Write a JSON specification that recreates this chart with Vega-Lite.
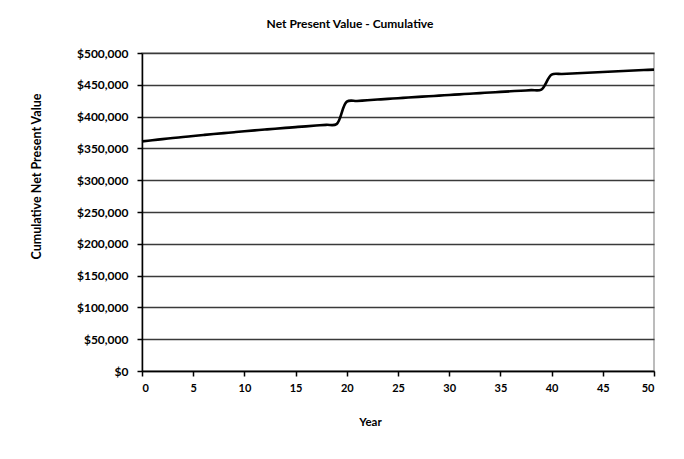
{
  "$schema": "https://vega.github.io/schema/vega-lite/v6.json",
  "autosize": "none",
  "width": 512,
  "height": 318,
  "padding": {"left": 142, "top": 53, "right": 30, "bottom": 88},
  "background": "white",
  "config": {
    "view": {"stroke": "#a6a6a6", "strokeWidth": 1.5},
    "font": "Lato"
  },
  "title": {
    "text": "Net Present Value - Cumulative",
    "font": "Lato",
    "fontSize": 12,
    "fontWeight": "bold",
    "color": "#000000",
    "anchor": "middle",
    "dx": -48,
    "offset": 16
  },
  "data": {
    "values": [
      {"year": 0, "npv": 361000}, {"year": 1, "npv": 362800}, {"year": 2, "npv": 364550},
      {"year": 3, "npv": 366250}, {"year": 4, "npv": 367900}, {"year": 5, "npv": 369500},
      {"year": 6, "npv": 371050}, {"year": 7, "npv": 372550}, {"year": 8, "npv": 374050},
      {"year": 9, "npv": 375500}, {"year": 10, "npv": 376900}, {"year": 11, "npv": 378300},
      {"year": 12, "npv": 379650}, {"year": 13, "npv": 380950}, {"year": 14, "npv": 382250},
      {"year": 15, "npv": 383500}, {"year": 16, "npv": 384700}, {"year": 17, "npv": 385900},
      {"year": 18, "npv": 387050}, {"year": 19, "npv": 388150}, {"year": 20, "npv": 423500},
      {"year": 21, "npv": 424600}, {"year": 22, "npv": 425700}, {"year": 23, "npv": 426800},
      {"year": 24, "npv": 427850}, {"year": 25, "npv": 428900}, {"year": 26, "npv": 429950},
      {"year": 27, "npv": 431000}, {"year": 28, "npv": 432000}, {"year": 29, "npv": 433000},
      {"year": 30, "npv": 434000}, {"year": 31, "npv": 435000}, {"year": 32, "npv": 436000},
      {"year": 33, "npv": 436950}, {"year": 34, "npv": 437900}, {"year": 35, "npv": 438850},
      {"year": 36, "npv": 439800}, {"year": 37, "npv": 440700}, {"year": 38, "npv": 441600},
      {"year": 39, "npv": 442500}, {"year": 40, "npv": 466000}, {"year": 41, "npv": 466900},
      {"year": 42, "npv": 467700}, {"year": 43, "npv": 468500}, {"year": 44, "npv": 469300},
      {"year": 45, "npv": 470100}, {"year": 46, "npv": 470900}, {"year": 47, "npv": 471700},
      {"year": 48, "npv": 472500}, {"year": 49, "npv": 473200}, {"year": 50, "npv": 473900}
    ]
  },
  "mark": {"type": "line", "color": "#000000", "strokeWidth": 2.6, "interpolate": "catmull-rom"},
  "encoding": {
    "x": {
      "field": "year",
      "type": "quantitative",
      "scale": {"domain": [0, 50], "nice": false, "zero": true},
      "axis": {
        "title": "Year",
        "values": [0, 5, 10, 15, 20, 25, 30, 35, 40, 45, 50],
        "grid": false,
        "domainColor": "#000000",
        "domainWidth": 1.5,
        "tickColor": "#000000",
        "tickWidth": 1.5,
        "tickSize": 5,
        "labelFont": "Lato",
        "labelFontSize": 11,
        "labelFontWeight": "bold",
        "labelColor": "#000000",
        "labelPadding": 6,
        "titleFont": "Lato",
        "titleFontSize": 11.5,
        "titleFontWeight": "bold",
        "titleColor": "#000000",
        "titleX": 228,
        "titlePadding": 23
      }
    },
    "y": {
      "field": "npv",
      "type": "quantitative",
      "scale": {"domain": [0, 500000], "nice": false},
      "axis": {
        "title": "Cumulative Net Present Value",
        "values": [0, 50000, 100000, 150000, 200000, 250000, 300000, 350000, 400000, 450000, 500000],
        "format": "$,.0f",
        "grid": true,
        "gridColor": "#3a3a3a",
        "gridWidth": 1.5,
        "gridOpacity": 1,
        "domainColor": "#000000",
        "domainWidth": 1.5,
        "tickColor": "#000000",
        "tickWidth": 1.5,
        "tickSize": 5,
        "labelFont": "Lato",
        "labelFontSize": 12,
        "labelFontWeight": "bold",
        "labelColor": "#000000",
        "labelPadding": 9,
        "titleFont": "Lato",
        "titleFontSize": 12.5,
        "titleFontWeight": "bold",
        "titleColor": "#000000",
        "titleAngle": -90,
        "titleX": -106,
        "titleY": 123,
        "titleAlign": "center",
        "titleBaseline": "middle"
      }
    }
  }
}
